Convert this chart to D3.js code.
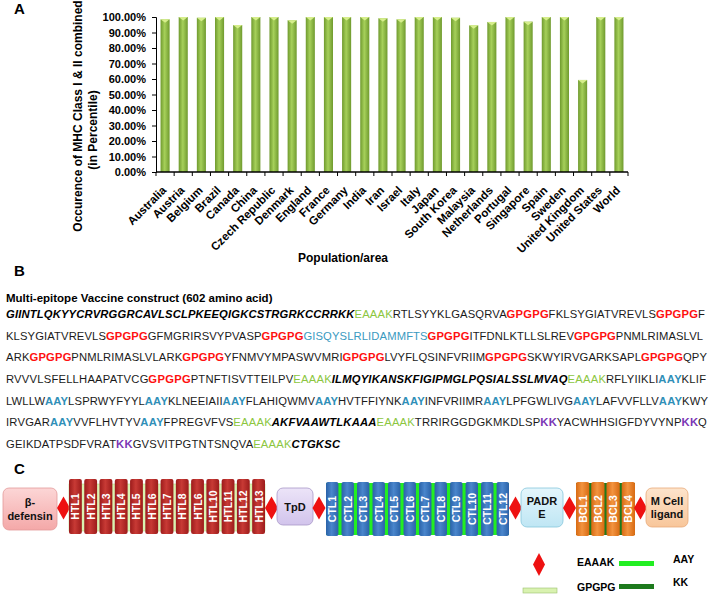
<!DOCTYPE html>
<html><head><meta charset="utf-8">
<script src="https://cdn.jsdelivr.net/npm/d3@7"></script>
<style>body{margin:0;background:#fff}svg{display:block;font-family:Arial,"Liberation Sans",sans-serif}</style>
</head><body>
<svg id="c" width="710" height="597"></svg>
<script>
// ---------- DATA ----------
const countries = ["Australia","Austria","Belgium","Brazil","Canada","China","Czech Republic","Denmark","England","France","Germany","India","Iran","Israel","Italy","Japan","South Korea","Malaysia","Netherlands","Portugal","Singapore","Spain","Sweden","United Kingdom","United States","World"];
const coverage = [0.985,1.0,0.995,1.0,0.948,1.0,1.0,0.979,1.0,1.0,1.0,1.0,0.992,0.985,1.0,1.0,0.995,0.946,0.968,1.0,0.970,1.0,1.0,0.594,1.0,1.0];
const yTicks = [0,0.1,0.2,0.3,0.4,0.5,0.6,0.7,0.8,0.9,1.0];
const yTitle = ["Occurence of MHC Class I & II combined","(in Percentile)"];
const xTitle = "Population/area";
const seqTitle = "Multi-epitope Vaccine construct (602 amino acid)";
const seqLines = [
 [["GIINTLQKYYCRVRGGRCAVLSCLPKEEQIGKCSTRGRKCCRRKK","adj"],["EAAAK","ea"],["RTLSYYKLGASQRVA","n"],["GPGPG","gp"],["FKLSYGIATVREVLS","n"],["GPGPG","gp"],["F","n"]],
 [["KLSYGIATVREVLS","n"],["GPGPG","gp"],["GFMGRIRSVYPVASP","n"],["GPGPG","gp"],["GISQYSLRLIDAMMFTS","pad"],["GPGPG","gp"],["ITFDNLKTLLSLREV","n"],["GPGPG","gp"],["PNMLRIMASLVL","n"]],
 [["ARK","n"],["GPGPG","gp"],["PNMLRIMASLVLARK","n"],["GPGPG","gp"],["YFNMVYMPASWVMRI","n"],["GPGPG","gp"],["LVYFLQSINFVRIIM","n"],["GPGPG","gp"],["SKWYIRVGARKSAPL","n"],["GPGPG","gp"],["QPY","n"]],
 [["RVVVLSFELLHAAPATVCG","n"],["GPGPG","gp"],["PTNFTISVTTEILPV","n"],["EAAAK","ea"],["ILMQYIKANSKFIGIPMGLPQSIALSSLMVAQ","adj"],["EAAAK","ea"],["RFLYIIKLI","n"],["AAY","aay"],["KLIF","n"]],
 [["LWLLW","n"],["AAY","aay"],["LSPRWYFYYL","n"],["AAY","aay"],["KLNEEIAII","n"],["AAY","aay"],["FLAHIQWMV","n"],["AAY","aay"],["HVTFFIYNK","n"],["AAY","aay"],["INFVRIIMR","n"],["AAY","aay"],["LPFGWLIVG","n"],["AAY","aay"],["LAFVVFLLV","n"],["AAY","aay"],["KWY","n"]],
 [["IRVGAR","n"],["AAY","aay"],["VVFLHVTYV","n"],["AAY","aay"],["FPREGVFVS","n"],["EAAAK","ea"],["AKFVAAWTLKAAA","adj"],["EAAAK","ea"],["TRRIRGGDGKMKDLSP","n"],["KK","kk"],["YACWHHSIGFDYVYNP","n"],["KK","kk"],["Q","n"]],
 [["GEIKDATPSDFVRAT","n"],["KK","kk"],["GVSVITPGTNTSNQVA","n"],["EAAAK","ea"],["CTGKSC","adj"]]
];
const htlLabels = ["HTL1","HTL2","HTL3","HTL4","HTL5","HTL6","HTL7","HTL8","HTL6","HTL10","HTL11","HTL12","HTL13"];
const ctlLabels = ["CTL1","CTL2","CTL3","CTL4","CTL5","CTL6","CTL7","CTL8","CTL9","CTL10","CTL11","CTL12"];
const bclLabels = ["BCL1","BCL2","BCL3","BCL4"];
const legendItems = [["EAAAK","AAY"],["GPGPG","KK"]];

// ---------- SETUP ----------
const svg = d3.select("#c");
const defs = svg.append("defs");
function hGrad(id, edge, mid){
  const g = defs.append("linearGradient").attr("id",id).attr("x1",0).attr("x2",1).attr("y1",0).attr("y2",0);
  g.append("stop").attr("offset",0).attr("stop-color",edge);
  g.append("stop").attr("offset",0.45).attr("stop-color",mid);
  g.append("stop").attr("offset",1).attr("stop-color",edge);
}
function vGrad(id, top, bot){
  const g = defs.append("linearGradient").attr("id",id).attr("x1",0).attr("x2",0).attr("y1",0).attr("y2",1);
  g.append("stop").attr("offset",0).attr("stop-color",top);
  g.append("stop").attr("offset",1).attr("stop-color",bot);
}
hGrad("barG","#6f9a2e","#a6d05a");
hGrad("redG","#9c1b1b","#c83a35");
hGrad("blueG","#2a62a8","#4a86cc");
hGrad("orgG","#d86a12","#f29440");
vGrad("pinkG","#fcd6d6","#f4a8a8");
vGrad("lavG","#ece4f8","#d2c4ec");
vGrad("cyanG","#e4f6fc","#bfe6f4");
vGrad("peachG","#fde4cc","#f8c69a");

const label = (x,y,t,size)=>svg.append("text").attr("x",x).attr("y",y).text(t)
  .attr("font-weight","bold").attr("font-size",size||15).attr("fill","#000");

// ---------- PANEL A ----------
label(14,14,"A");
const xA = d3.scaleBand().domain(countries).range([156,628]).paddingInner(0.5).paddingOuter(0.25);
const yA = d3.scaleLinear().domain([0,1]).range([172,17]);
const gA = svg.append("g");
gA.selectAll("rect.bar").data(countries).join("rect").attr("class","bar")
  .attr("x",d=>xA(d)).attr("width",xA.bandwidth())
  .attr("y",(d,i)=>yA(coverage[i])).attr("height",(d,i)=>yA(0)-yA(coverage[i]))
  .attr("fill","url(#barG)");
gA.selectAll("path.bev").data(countries).join("path").attr("class","bev")
  .attr("d",(d,i)=>{const x=xA(d),w=xA.bandwidth(),y=yA(coverage[i]);return `M${x},${y}L${x+w},${y}L${x+w/2},${y+3.5}Z`;})
  .attr("fill","#d6ee8c");
const yAx = gA.append("g").attr("transform","translate(156,0)")
  .call(d3.axisLeft(yA).tickValues(yTicks).tickFormat(d3.format(".2%")).tickSize(4).tickPadding(6));
yAx.selectAll("text").attr("font-size",11).attr("font-weight","bold").attr("font-family","Arial,'Liberation Sans',sans-serif").attr("fill","#000");
yAx.selectAll("line,path").attr("stroke","#000");
// x axis
const step = xA.step();
const bounds = d3.range(countries.length+1).map(i=>156+i*step);
gA.append("line").attr("x1",156).attr("x2",628).attr("y1",172).attr("y2",172).attr("stroke","#000").attr("stroke-width",1.5);
gA.selectAll("line.xt").data(bounds).join("line").attr("class","xt")
  .attr("x1",d=>d).attr("x2",d=>d).attr("y1",172).attr("y2",176).attr("stroke","#000");
gA.selectAll("text.xl").data(countries).join("text").attr("class","xl")
  .attr("transform",d=>`translate(${xA(d)+xA.bandwidth()/2+2},${191}) rotate(-45)`)
  .attr("text-anchor","end").attr("font-size",11.5).attr("font-weight","bold").text(d=>d);
gA.append("text").attr("x",343).attr("y",262).attr("text-anchor","middle").attr("font-size",12).attr("font-weight","bold").text(xTitle);
gA.append("text").attr("transform","translate(82,116) rotate(-90)").attr("text-anchor","middle").attr("font-size",12).attr("font-weight","bold").text(yTitle[0]);
gA.append("text").attr("transform","translate(97,130) rotate(-90)").attr("text-anchor","middle").attr("font-size",12).attr("font-weight","bold").text(yTitle[1]);

// ---------- PANEL B ----------
label(14,276,"B");
svg.append("text").attr("x",6).attr("y",302).attr("font-size",11.5).attr("font-weight","bold").text(seqTitle);
const segStyle = {
  n:{fill:"#1a1a1a",w:"normal",s:"normal"},
  adj:{fill:"#000",w:"bold",s:"italic"},
  ea:{fill:"#8cc63f",w:"normal",s:"normal"},
  gp:{fill:"#ff1010",w:"bold",s:"normal"},
  pad:{fill:"#3a9abf",w:"normal",s:"normal"},
  aay:{fill:"#2f8fb8",w:"bold",s:"normal"},
  kk:{fill:"#7a35b5",w:"bold",s:"normal"}
};
const lineY = d3.scaleLinear().domain([0,6]).range([318,448]);
const lineEnd = [705,703,707,706,708,707,340];
const fs0 = 12.5;
// build segment texts at base size, measure
const lineNodes = seqLines.map((segs,i)=>segs.map(([s,k])=>{
  const st = segStyle[k];
  return svg.append("text").attr("y",lineY(i)).attr("font-size",fs0)
    .attr("fill",st.fill).attr("font-weight",st.w).attr("font-style",st.s).text(s);
}));
const ratio = d3.min(lineNodes.map((nodes,i)=>(lineEnd[i]-6)/d3.sum(nodes,n=>n.node().getComputedTextLength())));
const fsB = Math.min(fs0, fs0*ratio*0.985);
lineNodes.forEach((nodes,i)=>{
  nodes.forEach(n=>n.attr("font-size",fsB));
  const widths = nodes.map(n=>n.node().getComputedTextLength());
  const total = d3.sum(widths);
  const xs = d3.scaleLinear().domain([0,total]).range([6,lineEnd[i]]);
  let acc = 0;
  nodes.forEach((n,j)=>{
    const x0 = xs(acc), x1 = xs(acc+widths[j]);
    n.attr("x",x0).attr("textLength",x1-x0).attr("lengthAdjust","spacing");
    acc += widths[j];
  });
});

// ---------- PANEL C ----------
label(14,474,"C");
const gC = svg.append("g");
const cy = 508;
function diamond(cx){
  gC.append("path").attr("d",`M${cx},${cy-11.5}L${cx+6.5},${cy}L${cx},${cy+11.5}L${cx-6.5},${cy}Z`).attr("fill","#ee1111");
}
function box(x0,x1,y0,y1,fill,stroke,lines){
  gC.append("rect").attr("x",x0).attr("y",y0).attr("width",x1-x0).attr("height",y1-y0).attr("rx",6)
    .attr("fill",fill).attr("stroke",stroke).attr("stroke-width",0.8);
  const t = gC.append("text").attr("text-anchor","middle").attr("font-size",11).attr("font-weight","bold").attr("fill","#111");
  const mid=(y0+y1)/2;
  lines.forEach((l,i)=>t.append("tspan").attr("x",(x0+x1)/2).attr("y",mid+4+(i-(lines.length-1)/2)*13.5).text(l));
}
function bars(labels, x0, x1, y0, y1, pad, fill, sepFill, bg){
  const xb = d3.scaleBand().domain(d3.range(labels.length)).range([x0,x1]).paddingInner(pad).paddingOuter(0);
  if(bg) gC.append("rect").attr("x",x0).attr("y",bg[0]).attr("width",x1-x0).attr("height",bg[1]-bg[0]).attr("fill",sepFill).attr("stroke",bg[2]||"none").attr("stroke-width",0.6);
  gC.selectAll(null).data(labels).join("rect")
    .attr("x",(d,i)=>xb(i)).attr("width",xb.bandwidth()).attr("y",y0).attr("height",y1-y0).attr("rx",2)
    .attr("fill",fill);
  gC.selectAll(null).data(labels).join("text")
    .attr("transform",(d,i)=>`translate(${xb(i)+xb.bandwidth()/2+4},${(y0+y1)/2}) rotate(-90)`)
    .attr("text-anchor","middle").attr("font-size",10.5).attr("font-weight","bold").attr("fill","#fff").text(d=>d);
}
box(3,57,488,530,"url(#pinkG)","#e39a9a",["β-","defensin"]);
diamond(63.5);
bars(htlLabels,69,265,479,534,0.16,"url(#redG)","#d9f2b0",[484,531,"#b7d88a"]);
diamond(271.5);
box(277,313,488,525,"url(#lavG)","#a898c8",["TpD"]);
diamond(319);
bars(ctlLabels,326,509,482,536,0.2,"url(#blueG)","#22ee22",[483,535]);
diamond(515.5);
box(521,563,488,527,"url(#cyanG)","#86c6dc",["PADR","E"]);
diamond(569.5);
bars(bclLabels,576,635,482,536,0.13,"url(#orgG)","#1d7a1d",[483,535]);
diamond(640.5);
box(646,688,488,527,"url(#peachG)","#e8aa78",["M Cell","ligand"]);

// legend
const gL = svg.append("g");
gL.append("path").attr("d","M539,553L545,564.5L539,576L533,564.5Z").attr("fill","#ee1111");
gL.append("rect").attr("x",523).attr("y",588).attr("width",34).attr("height",5).attr("fill","#d9f2b0").attr("stroke","#9cc070").attr("stroke-width",0.6);
gL.append("rect").attr("x",619).attr("y",561).attr("width",35).attr("height",5).attr("fill","#22ee22");
gL.append("rect").attr("x",619).attr("y",584).attr("width",35).attr("height",5).attr("fill","#1d7a1d");
const legY = [566,591], legY2=[563,586];
legendItems.forEach((row,i)=>{
  gL.append("text").attr("x",577).attr("y",legY[i]).attr("font-size",10.5).attr("font-weight","bold").text(row[0]);
  gL.append("text").attr("x",673).attr("y",legY2[i]).attr("font-size",10.5).attr("font-weight","bold").text(row[1]);
});
</script>
</body></html>
